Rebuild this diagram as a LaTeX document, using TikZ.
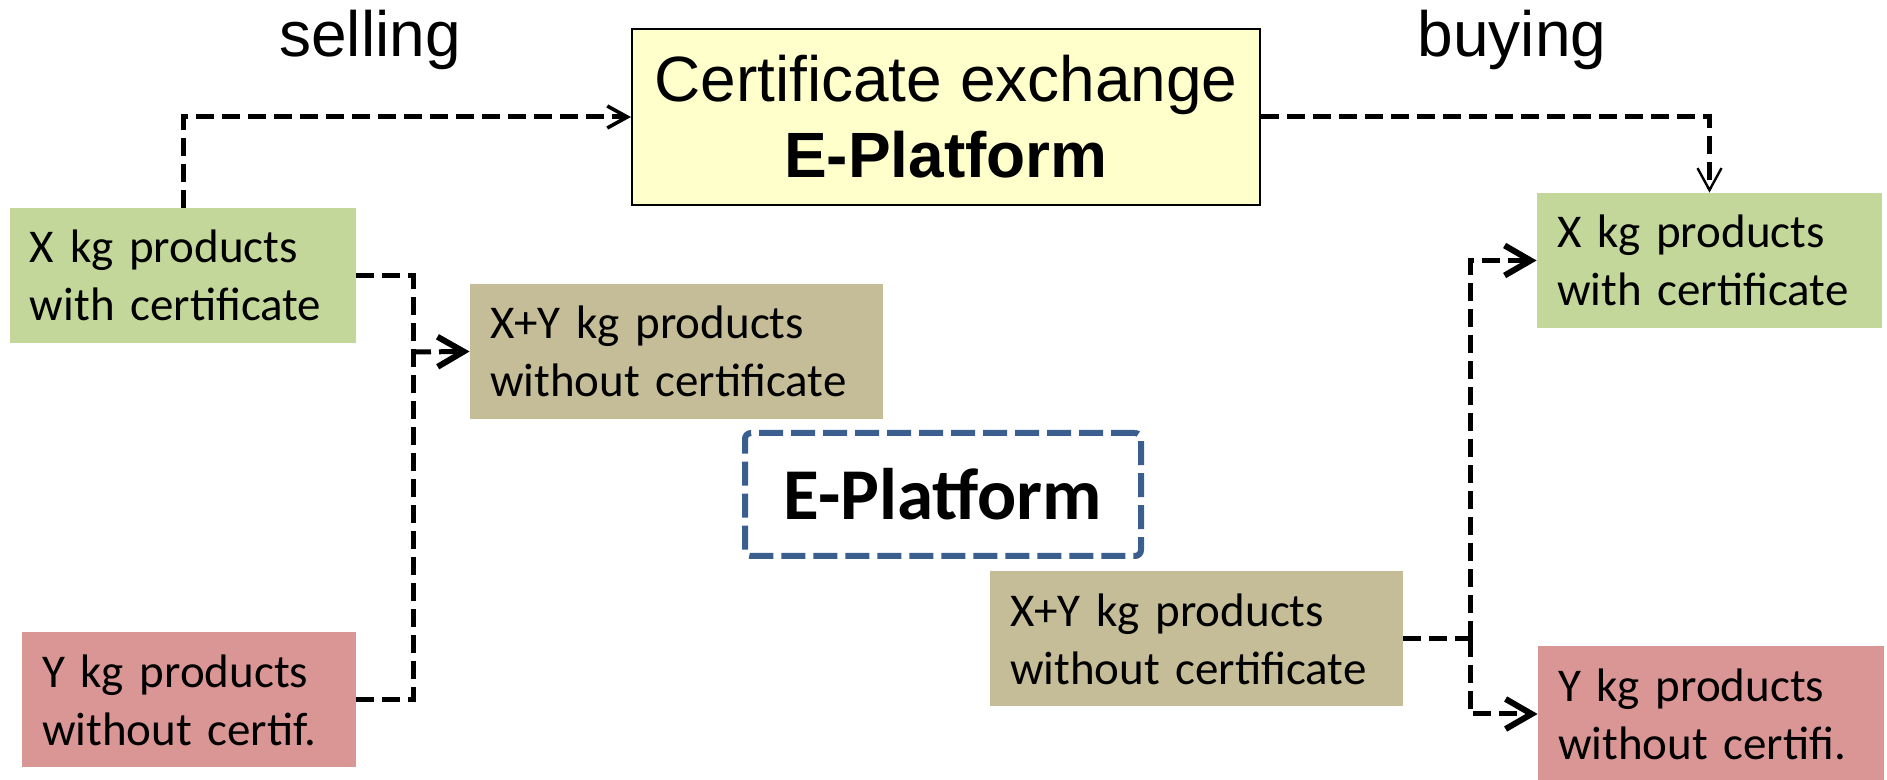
\documentclass[tikz,border=0pt]{standalone}
\usepackage{fontspec}
\setmainfont{Liberation Sans}
\newfontfamily\carlito{Carlito}
\usetikzlibrary{arrows.meta}
\definecolor{certgreen}{HTML}{C4D79B}
\definecolor{nocertred}{HTML}{DA9694}
\definecolor{mixtan}{HTML}{C4BD97}
\definecolor{exchyellow}{HTML}{FFFFCC}
\definecolor{platblue}{HTML}{3A5F8E}
\tikzset{
	prod/.style={inner xsep=10pt, inner ysep=4pt, minimum height=67.5pt, align=left, font=\carlito\fontsize{23.5}{29}\selectfont},
	flow/.style={line width=2.5pt, dash pattern=on 9pt off 4pt},
	bigtip/.style={-{Straight Barb[length=13pt, width=15pt, line width=3pt]}}
}

\begin{document}
\begin{tikzpicture}[x=0.5pt, y=-0.5pt]
		\useasboundingbox (0,0) rectangle (1887,780);
		%labels
		\node [anchor=base, font=\fontsize{32}{38}\selectfont] (sell) at (370,57) {selling};
		\node [anchor=base, font=\fontsize{32}{38}\selectfont] (buy) at (1512,57) {buying};
		%platforms
		\node [draw, line width=1pt, fill=exchyellow, minimum width=314pt, minimum height=88pt, align=center, font=\fontsize{32}{38}\selectfont] (exch) at (946,117) {Certificate exchange\\\textbf{E-Platform}};
		\node [draw=platblue, line width=3pt, dash pattern=on 12pt off 4pt, rounded corners=3pt, minimum width=198pt, minimum height=61.5pt, font=\carlito\bfseries\fontsize{36.5}{44}\selectfont] (plat) at (943,494.5) {E-Platform};
		%selling
		\node [prod, fill=certgreen, text width=153pt] (sellcert) at (183,275.5) {X kg products\\with certificate};
		\node [prod, fill=nocertred, text width=147pt] (sellnocert) at (189,700) {Y kg products\\without certif.};
		\node [prod, fill=mixtan, text width=186.5pt] (sellmix) at (676.5,351.5) {X+Y kg products\\without certificate};
		%buying
		\node [prod, fill=mixtan, text width=186.5pt] (buymix) at (1196.5,639) {X+Y kg products\\without certificate};
		\node [prod, fill=certgreen, text width=152.5pt] (buycert) at (1709.5,260.5) {X kg products\\with certificate};
		\node [prod, fill=nocertred, text width=153pt] (buynocert) at (1711,714) {Y kg products\\without certifi.};
		%arrows
		\coordinate (sellbus) at (413,352);
		\coordinate (buybus) at (1470,639);
		\draw [flow, -{Straight Barb[length=10pt, width=11pt, line width=1.8pt]}] (sellcert.north) |- (exch.west);
		\draw [flow, -{Straight Barb[length=11pt, width=12pt, line width=1.2pt]}] (exch.east) -| (buycert.north);
		\draw [flow] (sellcert.east) -| (sellbus) |- (sellnocert.east);
		\draw [flow, bigtip] (sellbus) -- (sellmix.west);
		\draw [flow] (buymix.east) -- (buybus);
		\draw [flow, bigtip] (buybus) |- (buycert.west);
		\draw [flow, bigtip] (buybus) |- (buynocert.west);
\end{tikzpicture}
\end{document}
